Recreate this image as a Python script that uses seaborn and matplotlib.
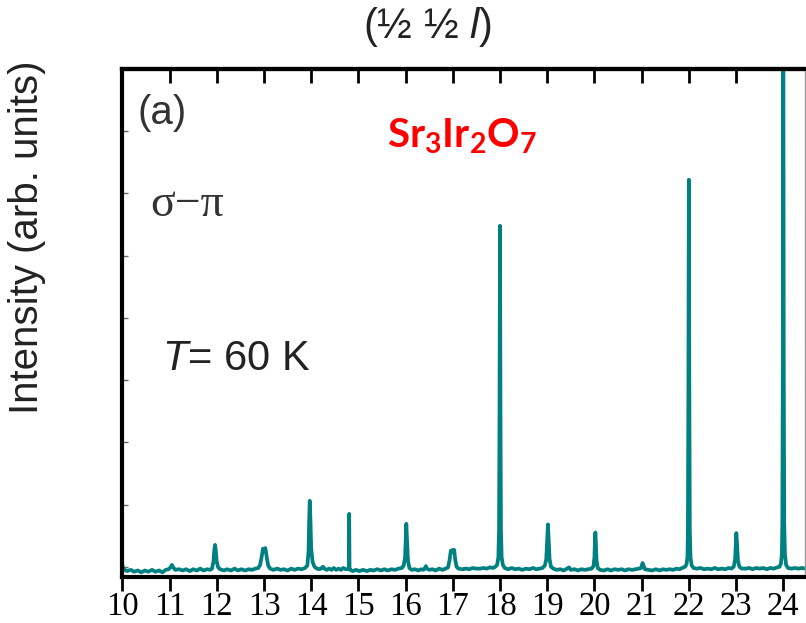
import matplotlib
matplotlib.use("Agg")
import matplotlib.pyplot as plt
import seaborn as sns
import pandas as pd

# Scan along (1/2 1/2 l): l in r.l.u., intensity in arb. units
l_values = [
    10.00, 10.02, 10.05, 10.10, 10.18, 10.25, 10.33, 10.40, 10.48, 10.55, 10.63, 10.70, 10.78, 10.85, 10.92,
    10.98, 11.02, 11.05, 11.08, 11.12,
    11.20, 11.28, 11.35, 11.43, 11.50, 11.58, 11.65, 11.72, 11.80, 11.86,
    11.90, 11.93, 11.95, 11.965, 11.98, 12.00, 12.03, 12.07,
    12.15, 12.22, 12.30, 12.38, 12.45, 12.52, 12.60, 12.68, 12.75, 12.82, 12.88,
    12.92, 12.95, 12.98, 13.00, 13.03, 13.06, 13.09, 13.13,
    13.20, 13.28, 13.35, 13.42, 13.50, 13.58, 13.65, 13.72, 13.80, 13.87, 13.92,
    13.945, 13.96, 13.97, 13.985, 14.00, 14.03, 14.07, 14.12,
    14.18, 14.22, 14.25, 14.28, 14.33, 14.38, 14.43, 14.48, 14.53, 14.58, 14.63, 14.68, 14.73, 14.78,
    14.797, 14.805, 14.813, 14.83,
    14.88, 14.95, 15.02, 15.10, 15.18, 15.25, 15.32, 15.40, 15.48, 15.55, 15.62, 15.70, 15.78, 15.85, 15.92, 15.96,
    15.99, 16.005, 16.015, 16.03, 16.05, 16.08, 16.13,
    16.20, 16.27, 16.33, 16.38, 16.41, 16.43, 16.45, 16.50, 16.57, 16.64, 16.71, 16.78, 16.85, 16.90,
    16.93, 16.96, 16.98, 17.00, 17.03, 17.05, 17.08, 17.12,
    17.20, 17.28, 17.35, 17.42, 17.50, 17.58, 17.65, 17.72, 17.78, 17.85, 17.90, 17.94,
    17.965, 17.98, 17.99, 18.00, 18.01, 18.02, 18.035, 18.06, 18.10,
    18.17, 18.25, 18.32, 18.40, 18.47, 18.55, 18.62, 18.70, 18.77, 18.84, 18.90, 18.95,
    18.98, 19.00, 19.015, 19.03, 19.05, 19.08, 19.13,
    19.20, 19.28, 19.35, 19.42, 19.46, 19.50, 19.58, 19.65, 19.72, 19.80, 19.87, 19.94, 19.98,
    20.00, 20.01, 20.02, 20.03, 20.045, 20.07, 20.12,
    20.20, 20.28, 20.35, 20.42, 20.50, 20.58, 20.65, 20.72, 20.80, 20.87, 20.94,
    20.99, 21.01, 21.02, 21.04, 21.07,
    21.15, 21.22, 21.30, 21.38, 21.45, 21.52, 21.60, 21.67, 21.74, 21.80, 21.86, 21.92, 21.95,
    21.97, 21.98, 21.99, 22.00, 22.01, 22.02, 22.035, 22.06, 22.10,
    22.17, 22.25, 22.32, 22.40, 22.47, 22.55, 22.62, 22.70, 22.77, 22.84, 22.90, 22.95,
    22.98, 22.995, 23.005, 23.02, 23.04, 23.07, 23.12,
    23.20, 23.28, 23.35, 23.42, 23.50, 23.58, 23.65, 23.72, 23.80, 23.87, 23.92, 23.95,
    23.97, 23.98, 23.99, 24.00, 24.01, 24.02, 24.035, 24.06, 24.10,
    24.17, 24.25, 24.32, 24.40, 24.47,
]
intensity = [
    0.03, -0.02, -0.05, -0.07, -0.05, -0.08, -0.06, -0.09, -0.06, -0.08, -0.05, -0.08, -0.06, -0.09, -0.05,
    -0.04, -0.01, 0.03, -0.01, -0.05,
    -0.04, -0.06, -0.04, -0.07, -0.04, -0.06, -0.03, -0.06, -0.04, -0.05,
    -0.03, 0.08, 0.28, 0.35, 0.26, 0.08, -0.01, -0.04,
    -0.06, -0.04, -0.06, -0.03, -0.06, -0.04, -0.06, -0.04, -0.05, -0.03, -0.02,
    0.03, 0.15, 0.29, 0.27, 0.30, 0.15, 0.02, -0.03,
    -0.05, -0.03, -0.05, -0.04, -0.06, -0.03, -0.05, -0.03, -0.04, -0.02, 0.02,
    0.25, 0.80, 1.06, 0.75, 0.30, 0.08, 0.00, -0.03,
    -0.04, -0.02, 0.00, -0.03, -0.05, -0.03, -0.05, -0.02, -0.05, -0.03, -0.05, -0.02, -0.04, -0.04,
    -0.04, 0.85, -0.04, -0.05,
    -0.07, -0.05, -0.07, -0.05, -0.07, -0.05, -0.06, -0.04, -0.06, -0.04, -0.06, -0.04, -0.05, -0.03, -0.02, 0.02,
    0.15, 0.50, 0.69, 0.45, 0.10, -0.02, -0.05,
    -0.04, -0.06, -0.04, -0.05, -0.02, 0.01, -0.03, -0.05, -0.04, -0.06, -0.03, -0.05, -0.03, -0.01,
    0.10, 0.26, 0.24, 0.27, 0.27, 0.12, 0.00, -0.03,
    -0.04, -0.03, -0.04, -0.02, -0.03, -0.03, -0.02, -0.03, -0.01, -0.02, 0.00, 0.03,
    0.15, 0.60, 2.50, 5.48, 2.50, 0.60, 0.15, 0.03, -0.02,
    -0.04, -0.02, -0.04, -0.03, -0.05, -0.03, -0.04, -0.02, -0.04, -0.03, -0.02, 0.02,
    0.12, 0.45, 0.68, 0.45, 0.12, 0.00, -0.03,
    -0.05, -0.04, -0.06, -0.03, -0.01, -0.05, -0.04, -0.06, -0.04, -0.05, -0.04, -0.03, 0.01,
    0.15, 0.40, 0.55, 0.40, 0.10, -0.02, -0.05,
    -0.06, -0.04, -0.06, -0.04, -0.05, -0.04, -0.06, -0.04, -0.05, -0.04, -0.03,
    -0.02, 0.04, 0.06, 0.02, -0.04,
    -0.05, -0.06, -0.04, -0.06, -0.04, -0.05, -0.04, -0.05, -0.03, -0.04, -0.02, 0.00, 0.04,
    0.15, 0.60, 2.80, 6.22, 2.80, 0.60, 0.15, 0.02, -0.02,
    -0.03, -0.02, -0.04, -0.03, -0.04, -0.02, -0.04, -0.03, -0.04, -0.02, -0.03, 0.00,
    0.12, 0.38, 0.54, 0.38, 0.10, 0.00, -0.03,
    -0.03, -0.02, -0.04, -0.02, -0.03, -0.02, -0.04, -0.02, -0.03, -0.01, 0.00, 0.05,
    0.20, 0.70, 3.20, 9.50, 3.20, 0.70, 0.20, 0.03, -0.02,
    -0.03, -0.02, -0.03, -0.02, -0.03,
]
x_ticks = list(range(10, 25))
y_ticks = list(range(0, 9))

sns.set_theme(style="white")
plt.rcParams["font.family"] = ["Liberation Sans", "DejaVu Sans"]
plt.rcParams["mathtext.fontset"] = "custom"
plt.rcParams["mathtext.rm"] = "Liberation Sans"
plt.rcParams["mathtext.it"] = "Liberation Sans:italic"
plt.rcParams["mathtext.bf"] = "Lato:bold"

W, H = 806, 623
fig = plt.figure(figsize=(W / 100, H / 100), dpi=100)
ax = fig.add_axes([122.3 / W, 1 - 576.7 / H, (805 - 122.3) / W, (576.7 - 69) / H])

df = pd.DataFrame({"l": l_values, "I": intensity})
sns.lineplot(data=df, x="l", y="I", ax=ax, color="#008080", linewidth=2.7, sort=False)

ax.set_xlim(10, 24.46)
ax.set_ylim(-0.16, 8.0)
ax.set_xlabel("")
ax.set_ylabel("")

ax.set_xticks(x_ticks)
ax.set_xticklabels([str(t) for t in x_ticks], family="Liberation Serif", fontsize=23.5)
ax.tick_params(axis="x", direction="out", length=10, width=2, color="black", pad=1,
               labelcolor="black", bottom=True)
ax.set_yticks(y_ticks)
ax.tick_params(axis="y", direction="in", length=4, width=1, color="#666666",
               labelleft=False, left=True)

top = ax.secondary_xaxis("top")
top.set_xticks(x_ticks)
top.tick_params(direction="in", length=10, width=2, color="black", labeltop=False)
top.spines["top"].set_linewidth(3)
top.spines["top"].set_color("black")

for side in ["left", "bottom", "top"]:
    ax.spines[side].set_linewidth(3)
    ax.spines[side].set_color("black")
ax.spines["right"].set_linewidth(1)
ax.spines["right"].set_color("#999999")

def px(x, y):
    return x / W, 1 - y / H

fig.text(*px(27, 237), "Intensity (arb. units)", rotation=90, ha="center", va="center",
         fontsize=29, color="#222222")
fig.text(*px(427, 27), r"(½ ½ $\mathit{l}$)", ha="center", va="center", fontsize=30,
         color="#222222")
fig.text(*px(137, 113), "(a)", ha="left", va="center", fontsize=29, color="#333333")
fig.text(*px(150, 205), "σ−π", ha="left", va="center", fontsize=33, color="#333333",
         family=["Liberation Serif", "DejaVu Serif"])
fig.text(*px(162, 359), r"$\mathit{T}$= 60 K", ha="left", va="center", fontsize=30,
         color="#222222")
fig.text(*px(387, 136), r"$\mathbf{Sr_3Ir_2O_7}$", ha="left", va="center", fontsize=29,
         color="#ff0000")

fig.savefig("out.png", dpi=100)
